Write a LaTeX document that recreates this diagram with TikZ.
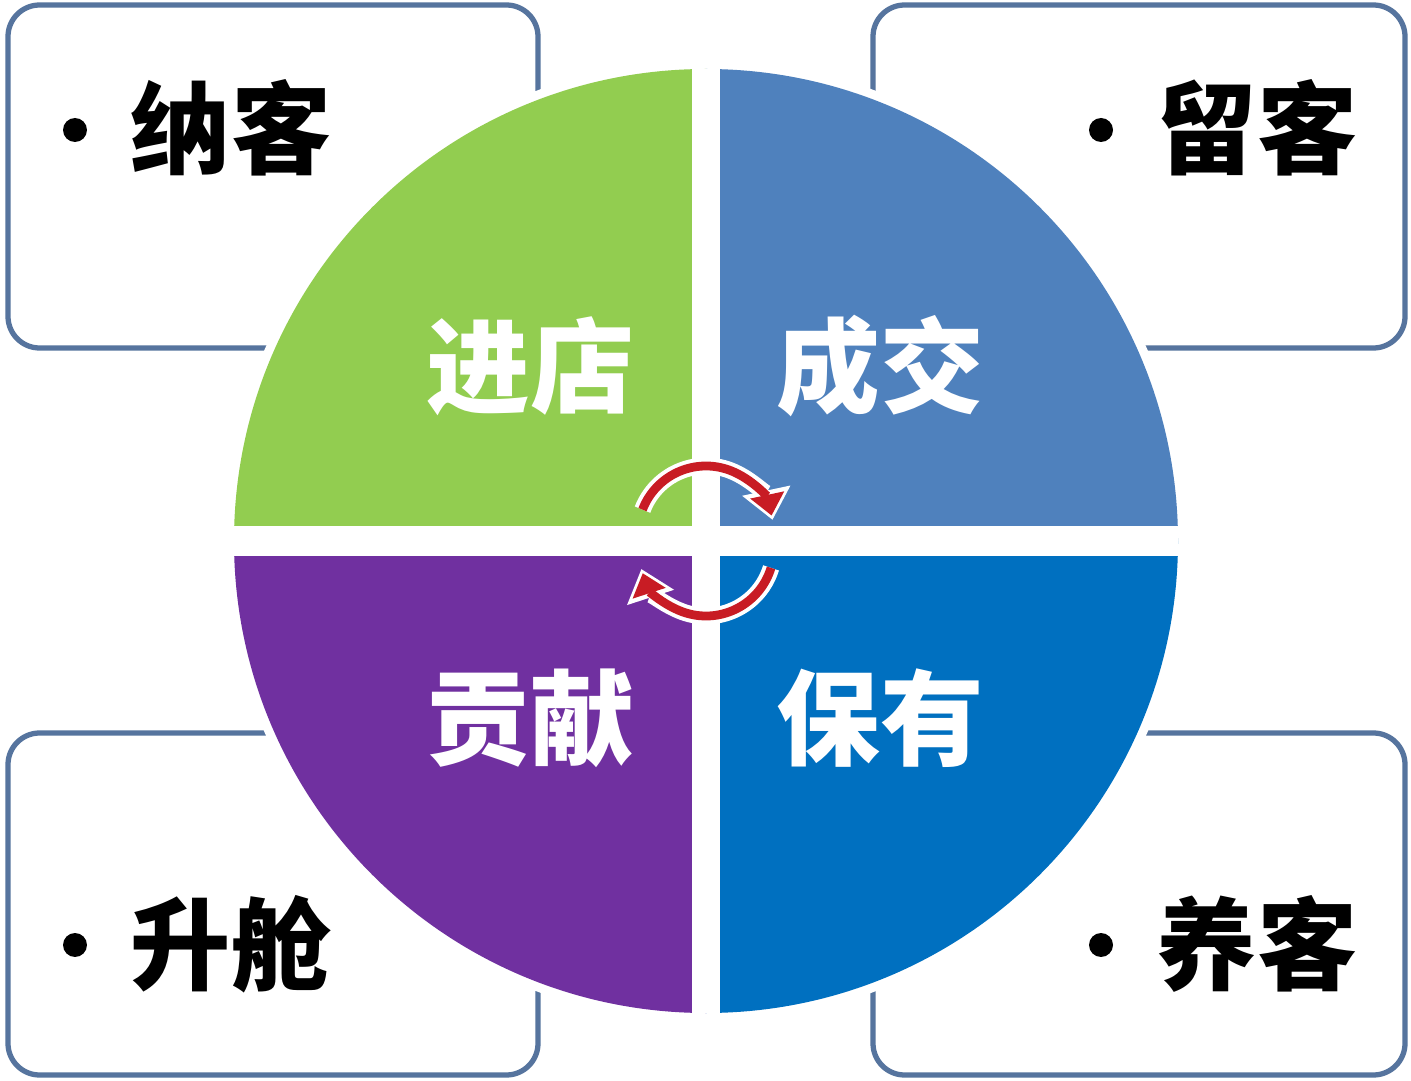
\documentclass[tikz,border=0pt]{standalone}
\usepackage{fontspec}
\newfontfamily\cjk{Noto Sans CJK SC}
\usetikzlibrary{arrows.meta}
\definecolor{qgreen}{RGB}{146,205,80}
\definecolor{qblue}{RGB}{79,129,189}
\definecolor{qpurple}{RGB}{112,48,160}
\definecolor{qdeep}{RGB}{0,112,192}
\definecolor{boxline}{RGB}{86,116,158}
\definecolor{arrred}{RGB}{200,28,36}
\tikzset{
  sidebox/.style={draw=boxline, line width=3pt, rounded corners=18pt, fill=white},
  sidelbl/.style={font=\cjk\bfseries\fontsize{57pt}{60pt}\selectfont, text=black, inner sep=0pt},
  quadlbl/.style={font=\cjk\bfseries\fontsize{59pt}{62pt}\selectfont, text=white, inner sep=0pt},
  bulletdot/.style={circle, fill=black, minimum size=0.48cm, inner sep=0pt},
  arrwhite/.style={draw=white, line width=9.5pt, -{Triangle[width=27pt,length=17pt]}},
  arrredst/.style={draw=arrred, line width=5pt, -{Triangle[width=19pt,length=12pt]}, shorten >=2.5pt},
}
\begin{document}
\begin{tikzpicture}[x=0.02cm, y=0.02cm]
\useasboundingbox (0,0) rectangle (1411,1080);
\fill[white] (0,0) rectangle (1411,1080);
% side boxes
\draw[sidebox] (8,732) rectangle (538,1075);
\draw[sidebox] (873,732) rectangle (1405,1075);
\draw[sidebox] (8,5) rectangle (538,347);
\draw[sidebox] (873,5) rectangle (1405,347);
% circle
\coordinate (ctr) at (706,539);
\fill[white] (ctr) circle[radius=481];
\begin{scope}
  \clip (ctr) circle[radius=472];
  \fill[qgreen] (ctr) rectangle ++(-480,480);
  \fill[qblue] (ctr) rectangle ++(480,480);
  \fill[qpurple] (ctr) rectangle ++(-480,-480);
  \fill[qdeep] (ctr) rectangle ++(480,-480);
  \fill[white] (692,0) rectangle (720,1080);
  \fill[white] (0,524) rectangle (1411,554);
\end{scope}
% quadrant labels
\node[quadlbl] (q1) at (530,714) {进店};
\node[quadlbl] (q2) at (880,714) {成交};
\node[quadlbl] (q3) at (530,362) {贡献};
\node[quadlbl] (q4) at (880,362) {保有};
% side labels
\node[bulletdot] (d1) at (75,950) {};
\node[sidelbl] (s1) at (231,952) {纳客};
\node[bulletdot] (d2) at (1101,950) {};
\node[sidelbl] (s2) at (1257,952) {留客};
\node[bulletdot] (d3) at (75,135) {};
\node[sidelbl] (s3) at (231,136) {升舱};
\node[bulletdot] (d4) at (1101,135) {};
\node[sidelbl] (s4) at (1257,136) {养客};
% cycle arrows
\coordinate (ca) at (706,546);
\coordinate (cb) at (706,532);
\draw[arrwhite] ([shift={(159:68)}]ca) arc[start angle=159, end angle=12, radius=68];
\draw[arrredst] ([shift={(159:68)}]ca) arc[start angle=159, end angle=12, radius=68];
\draw[arrwhite] ([shift={(-17:68)}]cb) arc[start angle=-17, end angle=-162, radius=68];
\draw[arrredst] ([shift={(-17:68)}]cb) arc[start angle=-17, end angle=-162, radius=68];
\end{tikzpicture}
\end{document}
